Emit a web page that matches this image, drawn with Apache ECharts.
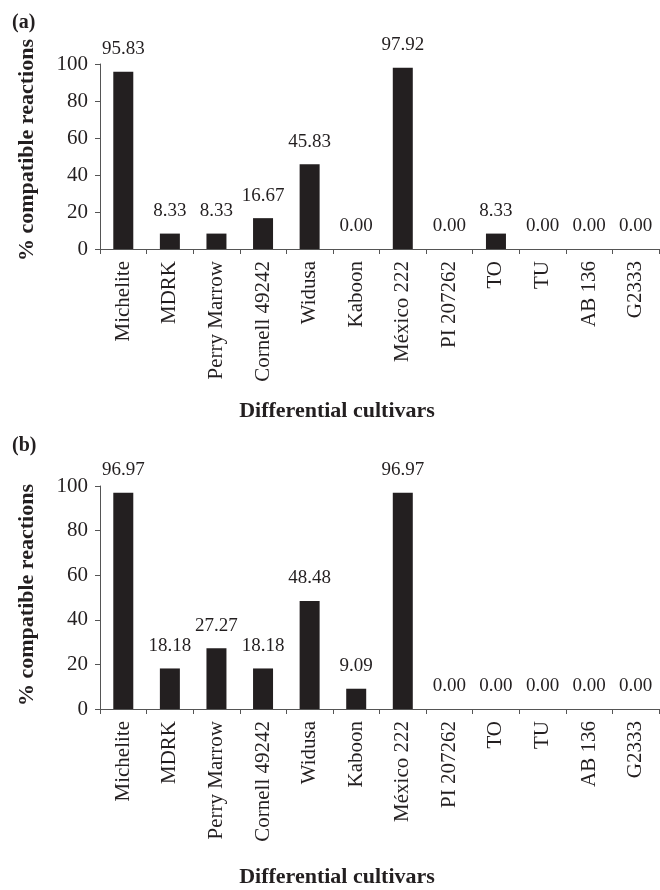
<!DOCTYPE html>
<html>
<head>
<meta charset="utf-8">
<script src="https://cdn.jsdelivr.net/npm/echarts@6/dist/echarts.min.js"></script>
<style>
html,body{margin:0;padding:0;background:#fff;}
#chart{width:660px;height:890px;}
</style>
</head>
<body>
<div id="chart"></div>
<script>
var categories = ['Michelite','MDRK','Perry Marrow','Cornell 49242','Widusa','Kaboon','México 222','PI 207262','TO','TU','AB 136','G2333'];
var valuesA = [95.83, 8.33, 8.33, 16.67, 45.83, 0.00, 97.92, 0.00, 8.33, 0.00, 0.00, 0.00];
var valuesB = [96.97, 18.18, 27.27, 18.18, 48.48, 9.09, 96.97, 0.00, 0.00, 0.00, 0.00, 0.00];
var yTicks = [0, 20, 40, 60, 80, 100];
var panelLabels = ['(a)', '(b)'];
var xTitle = 'Differential cultivars';
var yTitle = '% compatible reactions';

var FONT = '"Liberation Serif", "Times New Roman", serif';
var INK = '#231f20';
var AXIS = '#555555';

function xAxisCfg(gi) {
  return {
    type: 'category', gridIndex: gi, data: categories,
    axisLine: {lineStyle: {color: AXIS, width: 1}},
    axisTick: {show: true, alignWithLabel: false, length: 5, lineStyle: {color: AXIS}},
    axisLabel: {rotate: 90, interval: 0, margin: 12, fontFamily: FONT, fontSize: 21, color: INK}
  };
}
function yAxisCfg(gi) {
  return {
    type: 'value', gridIndex: gi, min: yTicks[0], max: yTicks[yTicks.length-1], interval: 20,
    splitLine: {show: false},
    axisLine: {show: true, lineStyle: {color: AXIS, width: 1}},
    axisTick: {show: true, length: 5, lineStyle: {color: AXIS}},
    axisLabel: {margin: 12, fontFamily: FONT, fontSize: 21, color: INK}
  };
}
function seriesCfg(gi, vals) {
  return {
    type: 'bar', xAxisIndex: gi, yAxisIndex: gi, data: vals, barWidth: 20,
    itemStyle: {color: INK},
    label: {show: true, position: 'top', distance: 13, fontFamily: FONT, fontSize: 19, color: INK,
      formatter: function(p){ return p.value.toFixed(2); }},
    animation: false
  };
}
var chart = echarts.init(document.getElementById('chart'), null, {renderer: 'canvas'});
chart.setOption({
  backgroundColor: '#fff',
  animation: false,
  grid: [
    {left: 100, right: 1, top: 64, height: 185},
    {left: 100, right: 1, top: 486, height: 223}
  ],
  xAxis: [xAxisCfg(0), xAxisCfg(1)],
  yAxis: [yAxisCfg(0), yAxisCfg(1)],
  series: [seriesCfg(0, valuesA), seriesCfg(1, valuesB)],
  graphic: [
    {type: 'text', left: 12, top: 13, style: {text: panelLabels[0], font: 'bold 20px ' + FONT, fill: INK}},
    {type: 'text', left: 12, top: 436, style: {text: panelLabels[1], font: 'bold 20px ' + FONT, fill: INK}},
    {type: 'text', x: 337, y: 411, style: {text: xTitle, font: 'bold 22px ' + FONT, fill: INK, align: 'center', verticalAlign: 'middle'}},
    {type: 'text', x: 337, y: 877, style: {text: xTitle, font: 'bold 22px ' + FONT, fill: INK, align: 'center', verticalAlign: 'middle'}},
    {type: 'text', x: 27, y: 150, rotation: Math.PI/2, style: {text: yTitle, font: 'bold 22px ' + FONT, fill: INK, align: 'center', verticalAlign: 'middle'}},
    {type: 'text', x: 27, y: 595, rotation: Math.PI/2, style: {text: yTitle, font: 'bold 22px ' + FONT, fill: INK, align: 'center', verticalAlign: 'middle'}}
  ]
});
</script>
</body>
</html>
